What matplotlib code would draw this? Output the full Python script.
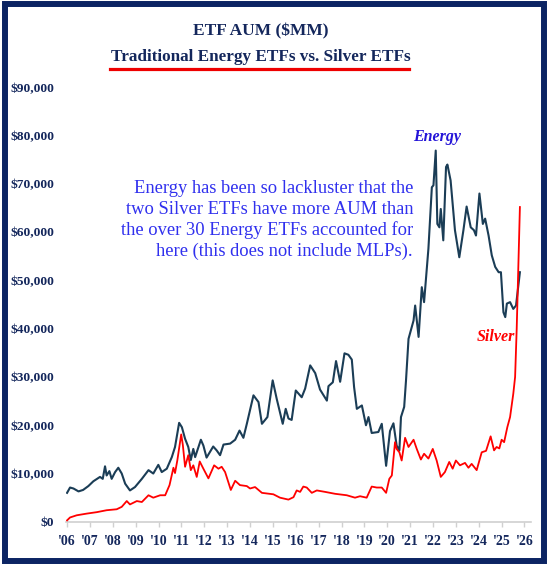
import matplotlib.pyplot as plt
from matplotlib.patches import Rectangle
from matplotlib.lines import Line2D

# Energy ETFs AUM ($MM)
energy_dates = [
    2006.00, 2006.13, 2006.28, 2006.50, 2006.70, 2006.93, 2007.15, 2007.44, 2007.56, 2007.66,
    2007.73, 2007.85, 2007.95, 2008.10, 2008.24, 2008.39, 2008.54, 2008.75, 2008.97, 2009.27,
    2009.56, 2009.77, 2009.99, 2010.14, 2010.36, 2010.58, 2010.72, 2010.90, 2011.02, 2011.16,
    2011.30, 2011.41, 2011.52, 2011.60, 2011.85, 2011.96, 2012.10, 2012.39, 2012.54, 2012.69,
    2012.84, 2013.13, 2013.35, 2013.54, 2013.71, 2013.86, 2014.15, 2014.37, 2014.52, 2014.76,
    2014.99, 2015.17, 2015.43, 2015.56, 2015.68, 2015.82, 2016.00, 2016.26, 2016.41, 2016.63,
    2016.85, 2017.06, 2017.36, 2017.43, 2017.62, 2017.76, 2017.94, 2018.13, 2018.30, 2018.45,
    2018.55, 2018.67, 2018.89, 2019.07, 2019.18, 2019.32, 2019.61, 2019.76, 2019.95, 2020.12,
    2020.27, 2020.41, 2020.53, 2020.60, 2020.74, 2020.82, 2020.93, 2021.15, 2021.22, 2021.37,
    2021.51, 2021.61, 2021.80, 2021.95, 2022.02, 2022.12, 2022.19, 2022.28, 2022.34, 2022.45,
    2022.57, 2022.63, 2022.77, 2022.96, 2023.15, 2023.33, 2023.47, 2023.65, 2023.79, 2023.88,
    2024.03, 2024.18, 2024.28, 2024.43, 2024.57, 2024.72, 2024.87, 2024.97, 2025.08, 2025.16,
    2025.23, 2025.37, 2025.51, 2025.63, 2025.80,
]
energy_aum = [
    6000, 7100, 6900, 6300, 6600, 7400, 8400, 9300, 8900, 11500,
    9600, 10500, 8900, 10300, 11200, 10000, 7900, 6500, 7200, 8900,
    10700, 10000, 11800, 10300, 11000, 13400, 15500, 20500, 19600, 17200,
    15500, 12800, 15100, 13400, 17000, 15800, 13300, 15600, 14800, 13800,
    16000, 16200, 17000, 18900, 17400, 20300, 26200, 24800, 20300, 21700,
    29300, 25400, 20300, 23400, 21400, 21100, 27200, 25800, 27600, 32400,
    30800, 27400, 25100, 28100, 28900, 33300, 29000, 34900, 34600, 33600,
    27900, 23400, 24100, 20000, 21700, 18400, 18600, 20300, 11600, 18800,
    20400, 15800, 14800, 21700, 23800, 29300, 37900, 41700, 44800, 38300,
    48600, 45500, 56600, 69300, 69700, 76900, 61700, 61000, 64800, 58300,
    73500, 74000, 70700, 60400, 54800, 60400, 65300, 61000, 60400, 59300,
    68000, 61700, 62800, 59300, 55200, 52800, 51700, 51700, 43400, 42400,
    45200, 45500, 44100, 44800, 51700,
]

# Silver ETFs AUM ($MM)
silver_dates = [
    2006.00, 2006.13, 2006.42, 2006.86, 2007.30, 2007.73, 2008.17, 2008.39, 2008.61, 2008.75,
    2009.05, 2009.27, 2009.56, 2009.77, 2010.07, 2010.29, 2010.48, 2010.65, 2010.72, 2010.82,
    2010.99, 2011.06, 2011.16, 2011.30, 2011.41, 2011.52, 2011.67, 2011.80, 2011.96, 2012.18,
    2012.43, 2012.62, 2012.76, 2012.91, 2013.16, 2013.35, 2013.56, 2013.86, 2014.00, 2014.22,
    2014.52, 2015.02, 2015.31, 2015.68, 2015.90, 2016.04, 2016.19, 2016.33, 2016.48, 2016.70,
    2016.92, 2017.28, 2017.72, 2018.23, 2018.59, 2018.81, 2019.10, 2019.32, 2019.54, 2019.76,
    2019.95, 2020.09, 2020.20, 2020.34, 2020.41, 2020.53, 2020.63, 2020.78, 2020.93, 2021.15,
    2021.29, 2021.47, 2021.61, 2021.80, 2021.99, 2022.16, 2022.34, 2022.52, 2022.71, 2022.86,
    2023.00, 2023.18, 2023.40, 2023.55, 2023.69, 2023.91, 2024.13, 2024.32, 2024.52, 2024.67,
    2024.78, 2024.90, 2025.00, 2025.11, 2025.25, 2025.37, 2025.51, 2025.59, 2025.66, 2025.80,
]
silver_aum = [
    300, 900, 1350, 1700, 2000, 2400, 2600, 3100, 4300, 3600,
    4300, 4100, 5500, 5000, 5500, 5500, 7600, 11200, 10100, 12700,
    18100, 16000, 11400, 13800, 10700, 11700, 9300, 12500, 11000, 9000,
    11700, 11000, 11400, 10300, 6600, 8500, 7600, 7400, 6900, 7200,
    6000, 5700, 5000, 4600, 5100, 6500, 6200, 7300, 7100, 6000,
    6500, 6200, 5800, 5500, 5000, 5300, 5000, 7300, 7100, 7100,
    6000, 8900, 9600, 16500, 15100, 14400, 12700, 17400, 15500, 17000,
    15100, 12900, 14100, 13100, 15100, 12700, 9300, 10300, 12400, 11000,
    12700, 11700, 12200, 11200, 12000, 10700, 14400, 14700, 17700, 14800,
    15500, 15200, 17000, 16500, 19600, 21700, 26500, 30000, 40000, 65200,
]

years = list(range(2006, 2027))
year_labels = ["'%02d" % (y % 100) for y in years]
y_ticks = list(range(0, 90001, 10000))
y_labels = ['$0'] + ['${:,}'.format(v) for v in y_ticks[1:]]

navy = '#14275c'
energy_color = '#1b3d56'
silver_color = '#ff0000'
serif = 'Liberation Serif'

fig = plt.figure(figsize=(5.48, 5.64), dpi=100)
ax = fig.add_axes([0.1203, 0.0748, 0.8493, 0.7704])

ax.plot(energy_dates, energy_aum, color=energy_color, lw=1.5, zorder=3)
ax.plot(silver_dates, silver_aum, color=silver_color, lw=1.3, zorder=4)

ax.set_xlim(2005.95, 2026.3)
ax.set_ylim(0, 90000)
ax.set_xticks(years)
ax.set_xticklabels(year_labels, fontfamily=serif, fontweight='bold', fontsize=10, color=navy)
ax.set_yticks(y_ticks)
ax.set_yticklabels(y_labels, fontfamily=serif, fontweight='bold', fontsize=9.7, color=navy)
ax.tick_params(axis='y', length=0, pad=8.5)
ax.tick_params(axis='x', length=3.5, width=1, color='#d0d0d0', pad=6)
for side in ['left', 'top', 'right']:
    ax.spines[side].set_visible(False)
ax.spines['bottom'].set_color('#d0d0d0')
ax.spines['bottom'].set_linewidth(1.2)

# series labels and note
ax.text(2022.18, 79800, 'Energy', fontfamily=serif, fontweight='bold', fontstyle='italic',
        fontsize=11.5, color='#2414d8', ha='center', va='center')
ax.text(2025.6, 38200, 'Silver', fontfamily=serif, fontweight='bold', fontstyle='italic',
        fontsize=11.5, color=silver_color, ha='right', va='center')
note = ('Energy has been so lackluster that the\n'
        'two Silver ETFs have more AUM than\n'
        'the over 30 Energy ETFs accounted for\n'
        'here (this does not include MLPs).')
ax.text(2021.13, 62500, note, fontfamily=serif, fontsize=13.3, color='#3030ee',
        ha='right', va='center', multialignment='right', linespacing=1.25)

# titles
fig.text(0.476, 0.9438, 'ETF AUM ($MM)', fontfamily=serif, fontweight='bold',
         fontsize=12.5, color=navy, ha='center', va='center')
fig.text(0.476, 0.8995, 'Traditional Energy ETFs vs. Silver ETFs', fontfamily=serif,
         fontweight='bold', fontsize=12.3, color=navy, ha='center', va='center')
fig.add_artist(Line2D([110 / 548, 409 / 548], [1 - 69 / 564, 1 - 69 / 564],
                      transform=fig.transFigure, color='#ee0000', lw=2.3))

# frame
fig.add_artist(Rectangle((4.5 / 548, 3.5 / 564), 539 / 548, 556.5 / 564,
                         transform=fig.transFigure, fill=False, edgecolor='#0c2463', lw=4.3))

fig.savefig('out.png', dpi=100)
